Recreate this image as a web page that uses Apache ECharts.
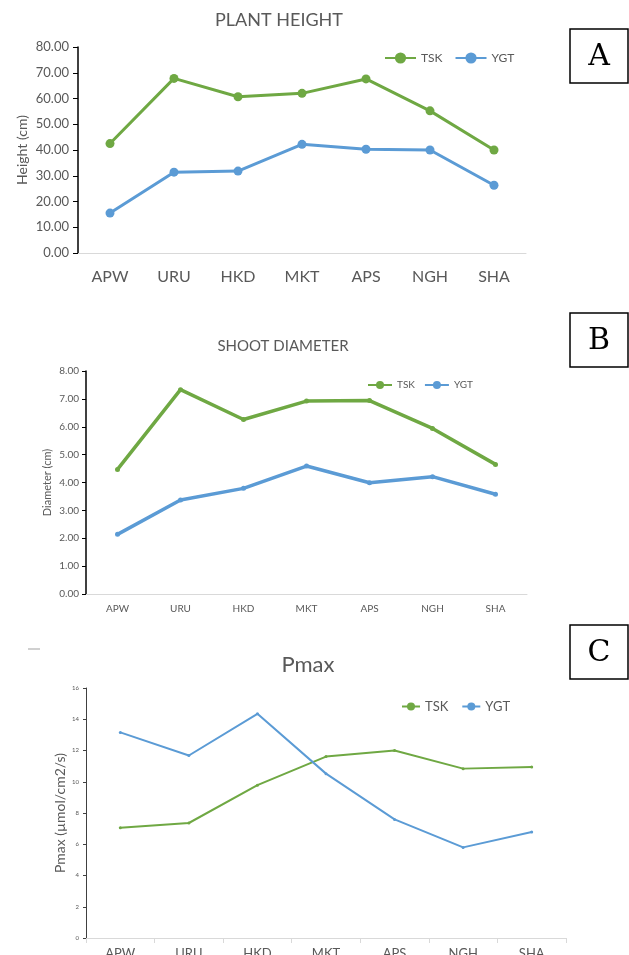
<!DOCTYPE html>
<html>
<head>
<meta charset="utf-8">
<script src="https://cdn.jsdelivr.net/npm/echarts@6/dist/echarts.min.js"></script>
<style>
  html, body { margin: 0; padding: 0; background: #fff; }
  .panel { position: absolute; left: 0; width: 629px; }
  #chartA { top: 0; height: 300px; }
  #chartB { top: 300px; height: 320px; }
  #chartC { top: 620px; height: 335px; }
</style>
</head>
<body>
<div id="chartA" class="panel"></div>
<div id="chartB" class="panel"></div>
<div id="chartC" class="panel"></div>
<script>
var sites = ['APW', 'URU', 'HKD', 'MKT', 'APS', 'NGH', 'SHA'];

var heightTSK = [42.5, 67.8, 60.7, 62.0, 67.6, 55.2, 40.0];
var heightYGT = [15.5, 31.4, 31.8, 42.2, 40.3, 40.0, 26.3];

var diameterTSK = [4.47, 7.33, 6.26, 6.92, 6.94, 5.94, 4.65];
var diameterYGT = [2.14, 3.37, 3.79, 4.59, 3.99, 4.21, 3.58];

var pmaxTSK = [7.06, 7.36, 9.78, 11.61, 12.0, 10.84, 10.95];
var pmaxYGT = [13.16, 11.68, 14.35, 10.52, 7.59, 5.80, 6.78];

var green = '#6FA843';
var blue = '#5B9BD5';
var txt = '#595959';
var font = 'Lato, "Open Sans", sans-serif';

// framed panel letter in the top right corner
var letterBox = function (letter, y) {
    return [{
        type: 'rect',
        shape: { x: 570, y: y, width: 58, height: 54 },
        style: { fill: '#fff', stroke: '#000', lineWidth: 1.5 },
        z: 10
    }, {
        type: 'text',
        x: 599, y: y + 28,
        style: {
            text: letter, font: '30px "DejaVu Serif", "Liberation Serif", serif',
            fill: '#000', align: 'center', verticalAlign: 'middle'
        },
        z: 11
    }];
};

var titleText = function (text, x, y, size) {
    return {
        type: 'text', x: x, y: y,
        style: {
            text: text, font: size + 'px ' + font, fill: txt,
            align: 'center', verticalAlign: 'middle'
        }
    };
};

var lineSeries = function (name, data, color, width, symSize) {
    return {
        name: name,
        type: 'line',
        data: data,
        symbol: 'circle',
        symbolSize: symSize,
        lineStyle: { color: color, width: width },
        itemStyle: { color: color },
        animation: false
    };
};

/* A: plant height */
var chartA = echarts.init(document.getElementById('chartA'));
chartA.setOption({
    animation: false,
    grid: { left: 78, right: 103, top: 47, bottom: 47, outerBoundsMode: 'none', containLabel: false },
    legend: {
        left: 379, top: 47, itemWidth: 31, itemHeight: 14, itemGap: 12,
        textStyle: { color: txt, fontSize: 12, fontFamily: font },
        data: ['TSK', 'YGT']
    },
    xAxis: {
        type: 'category', data: sites, boundaryGap: true,
        axisLine: { lineStyle: { color: '#d9d9d9', width: 1 } },
        axisTick: { show: false },
        axisLabel: { color: txt, fontSize: 16, fontFamily: font, margin: 16 }
    },
    yAxis: {
        type: 'value', min: 0, max: 80, interval: 10,
        name: 'Height (cm)', nameLocation: 'middle', nameGap: 49, nameRotate: 90,
        nameMoveOverlap: false,
        nameTextStyle: { color: txt, fontSize: 14, fontFamily: font },
        axisLine: { show: true, lineStyle: { color: '#000', width: 1.5 } },
        axisTick: { show: true, length: 5, lineStyle: { color: '#000' } },
        splitLine: { show: false },
        axisLabel: {
            color: txt, fontSize: 13, fontFamily: font, margin: 9,
            formatter: function (v) { return v.toFixed(2); }
        }
    },
    series: [
        lineSeries('TSK', heightTSK, green, 3, 9),
        lineSeries('YGT', heightYGT, blue, 3, 9)
    ],
    graphic: [titleText('PLANT HEIGHT', 279, 20, 18)].concat(letterBox('A', 29))
});

/* B: shoot diameter */
var chartB = echarts.init(document.getElementById('chartB'));
chartB.setOption({
    animation: false,
    grid: { left: 86, right: 102, top: 71, bottom: 26, outerBoundsMode: 'none', containLabel: false },
    legend: {
        left: 362, top: 75, itemWidth: 24, itemHeight: 10, itemGap: 9,
        textStyle: { color: txt, fontSize: 10, fontFamily: font },
        data: ['TSK', 'YGT']
    },
    xAxis: {
        type: 'category', data: sites, boundaryGap: true,
        axisLine: { lineStyle: { color: '#d9d9d9', width: 1 } },
        axisTick: { show: false },
        axisLabel: { color: txt, fontSize: 10, fontFamily: font, margin: 10 }
    },
    yAxis: {
        type: 'value', min: 0, max: 8, interval: 1,
        name: 'Diameter (cm)', nameLocation: 'middle', nameGap: 33, nameRotate: 90,
        nameMoveOverlap: false,
        nameTextStyle: { color: txt, fontSize: 11, fontFamily: font },
        axisLine: { show: true, lineStyle: { color: '#000', width: 1.5 } },
        axisTick: { show: true, length: 4, lineStyle: { color: '#000' } },
        splitLine: { show: false },
        axisLabel: {
            color: txt, fontSize: 10, fontFamily: font, margin: 7,
            formatter: function (v) { return v.toFixed(2); }
        }
    },
    series: [
        lineSeries('TSK', diameterTSK, green, 3.5, 5),
        lineSeries('YGT', diameterYGT, blue, 3.5, 5)
    ],
    graphic: [titleText('SHOOT DIAMETER', 283, 46, 15)].concat(letterBox('B', 13))
});

/* C: Pmax */
var chartC = echarts.init(document.getElementById('chartC'));
chartC.setOption({
    animation: false,
    grid: { left: 86, right: 63, top: 68, bottom: 17, outerBoundsMode: 'none', containLabel: false },
    legend: {
        left: 396, top: 75, itemWidth: 18, itemHeight: 10, itemGap: 13,
        textStyle: { color: txt, fontSize: 13, fontFamily: font },
        data: ['TSK', 'YGT']
    },
    xAxis: {
        type: 'category', data: sites, boundaryGap: true,
        axisLine: { lineStyle: { color: '#d9d9d9', width: 1 } },
        axisTick: { show: true, length: 5, lineStyle: { color: '#d9d9d9' } },
        axisLabel: { color: txt, fontSize: 13, fontFamily: font, margin: 9 }
    },
    yAxis: {
        type: 'value', min: 0, max: 16, interval: 2,
        name: 'Pmax (µmol/cm2/s)', nameLocation: 'middle', nameGap: 19, nameRotate: 90,
        nameMoveOverlap: false,
        nameTextStyle: { color: txt, fontSize: 14, fontFamily: font },
        axisLine: { show: true, lineStyle: { color: '#404040', width: 1 } },
        axisTick: { show: true, length: 3, lineStyle: { color: '#404040' } },
        splitLine: { show: false },
        axisLabel: { color: txt, fontSize: 6, fontFamily: font, margin: 7 }
    },
    series: [
        lineSeries('TSK', pmaxTSK, green, 2, 3),
        lineSeries('YGT', pmaxYGT, blue, 2, 3)
    ],
    graphic: [
        titleText('Pmax', 308, 45, 22),
        { type: 'rect', shape: { x: 28, y: 28, width: 12, height: 2 }, style: { fill: '#d0d0d0' } }
    ].concat(letterBox('C', 5))
});
</script>
</body>
</html>
